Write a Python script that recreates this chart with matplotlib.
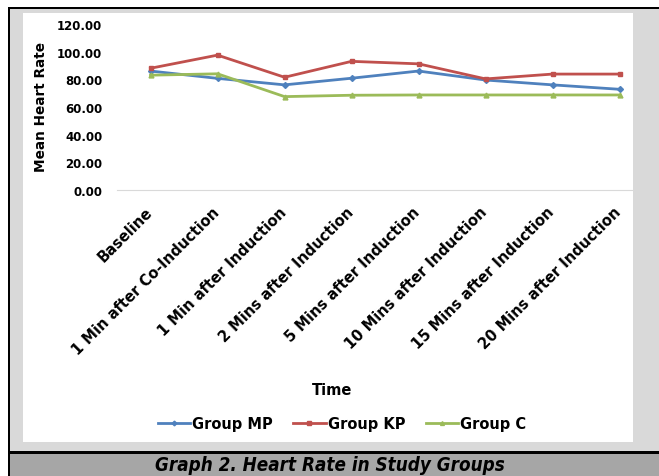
import matplotlib
matplotlib.use("Agg")
import matplotlib.pyplot as plt
from matplotlib.patches import Rectangle
from matplotlib.transforms import ScaledTranslation

W, H = 659, 477

time_points = ["Baseline", "1 Min after Co-Induction", "1 Min after Induction",
               "2 Mins after Induction", "5 Mins after Induction",
               "10 Mins after Induction", "15 Mins after Induction",
               "20 Mins after Induction"]
group_mp = [86.0, 80.7, 76.0, 80.8, 86.0, 79.5, 76.0, 72.8]
group_kp = [88.0, 97.5, 81.5, 93.0, 91.2, 80.3, 83.8, 83.8]
group_c = [83.0, 84.0, 67.5, 68.5, 68.7, 68.7, 68.7, 68.7]
y_ticks = [0, 20, 40, 60, 80, 100, 120]

blue, red, green = "#4F81BD", "#C0504D", "#9BBB59"


def box(x0, y0, x1, y1, color):
    # pixel box (top-left origin) -> figure fraction rectangle
    fig.patches.append(Rectangle((x0 / W, 1 - y1 / H), (x1 - x0) / W, (y1 - y0) / H,
                                 transform=fig.transFigure, facecolor=color,
                                 edgecolor="none", zorder=-1))


fig = plt.figure(figsize=(W / 100, H / 100), dpi=100, facecolor="white")

box(9, 9, W, 453, "#D9D9D9")
box(23, 14, 633, 443, "white")
box(9, 455, W, H, "#A6A6A6")
box(8, 8, W, 10, "black")
box(8, 8, 10, H, "black")
box(8, 452, W, 455, "black")

ax = fig.add_axes([117 / W, 1 - 191 / H, 516 / W, 166 / H])
ax.set_zorder(1)
ax.set_facecolor("none")
x = range(len(time_points))
ax.plot(x, group_mp, color=blue, lw=2, marker="D", ms=3, label="Group MP")
ax.plot(x, group_kp, color=red, lw=2, marker="s", ms=3, label="Group KP")
ax.plot(x, group_c, color=green, lw=2, marker="^", ms=3.5, label="Group C")

ax.set_xlim(-0.5, 7.2)
ax.set_ylim(0, 120)
ax.set_yticks(y_ticks)
ax.set_yticklabels([f"{v:.2f}" for v in y_ticks], fontsize=8.5, fontweight="bold")
ax.set_xticks(list(x))
ax.set_xticklabels(time_points, rotation=45, ha="right", rotation_mode="anchor",
                   fontsize=10.5, fontweight="bold")
ax.tick_params(axis="y", length=0, pad=10.5)
ax.tick_params(axis="x", length=0, pad=10)
# nudge the slanted labels a little to the left
shift = ScaledTranslation(-0.06, 0, fig.dpi_scale_trans)
for lbl in ax.get_xticklabels():
    lbl.set_transform(lbl.get_transform() + shift)
for s in ["top", "right", "left"]:
    ax.spines[s].set_visible(False)
ax.spines["bottom"].set_color("#D9D9D9")

fig.text(41 / W, 1 - 107 / H, "Mean Heart Rate", rotation=90, ha="center", va="center",
         fontsize=9.8, fontweight="bold")
fig.text(332 / W, 1 - 391 / H, "Time", ha="center", va="center",
         fontsize=10.5, fontweight="bold")

ax.legend(loc="center", bbox_to_anchor=(342 / W, 1 - 425 / H),
          bbox_transform=fig.transFigure, ncol=3, frameon=False,
          prop={"size": 10.5, "weight": "bold"}, handlelength=2.2,
          handletextpad=0.15, columnspacing=1.4, markerscale=0.8)

fig.text(330 / W, 1 - 466 / H, "Graph 2. Heart Rate in Study Groups", ha="center",
         va="center", fontsize=13.5, fontweight="bold", fontstyle="italic",
         fontstretch="condensed")

fig.savefig("out.png", dpi=100, facecolor="white")
